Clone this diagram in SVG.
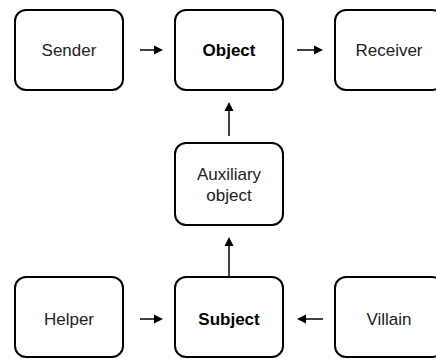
<svg xmlns="http://www.w3.org/2000/svg" width="436" height="360" viewBox="0 0 436 360">
<defs>
<style>
.box{fill:#fff;stroke:#000;stroke-width:2}
.t{font-family:"Liberation Sans",Arial,sans-serif;font-size:17px;fill:#222;text-anchor:middle}
.b{font-weight:bold;fill:#000}
.c{stroke:#000;stroke-width:1.5;fill:none}
.h{fill:#000}
</style>
</defs>
<rect width="436" height="360" fill="#fff"/>
<g id="sender"><rect class="box" x="15" y="10" width="108" height="80" rx="11"/><text class="t" x="69" y="56">Sender</text></g>
<g id="object"><rect class="box" x="175" y="10" width="108" height="80" rx="11"/><text class="t b" x="229" y="56">Object</text></g>
<g id="receiver"><rect class="box" x="335" y="10" width="108" height="80" rx="11"/><text class="t" x="389" y="56">Receiver</text></g>
<g id="auxiliary"><rect class="box" x="175" y="143" width="108" height="82" rx="11"/><text class="t" x="229" y="180">Auxiliary</text><text class="t" x="229" y="201">object</text></g>
<g id="helper"><rect class="box" x="15" y="277" width="108" height="80" rx="11"/><text class="t" x="69" y="325">Helper</text></g>
<g id="subject"><rect class="box" x="175" y="277" width="108" height="80" rx="11"/><text class="t b" x="229" y="325">Subject</text></g>
<g id="villain"><rect class="box" x="335" y="277" width="108" height="80" rx="11"/><text class="t" x="389" y="325">Villain</text></g>
<g id="connectors">
<line class="c" x1="140" y1="50" x2="156" y2="50"/><polygon class="h" points="163,50 154,45.5 154,54.5"/>
<line class="c" x1="297" y1="50" x2="316" y2="50"/><polygon class="h" points="323,50 314,45.5 314,54.5"/>
<line class="c" x1="229" y1="136" x2="229" y2="109"/><polygon class="h" points="229,102 224.5,111 233.5,111"/>
<line class="c" x1="229" y1="276" x2="229" y2="244"/><polygon class="h" points="229,237 224.5,246 233.5,246"/>
<line class="c" x1="140" y1="319" x2="156" y2="319"/><polygon class="h" points="163,319 154,314.5 154,323.5"/>
<line class="c" x1="323" y1="319" x2="304" y2="319"/><polygon class="h" points="297,319 306,314.5 306,323.5"/>
</g>
</svg>
